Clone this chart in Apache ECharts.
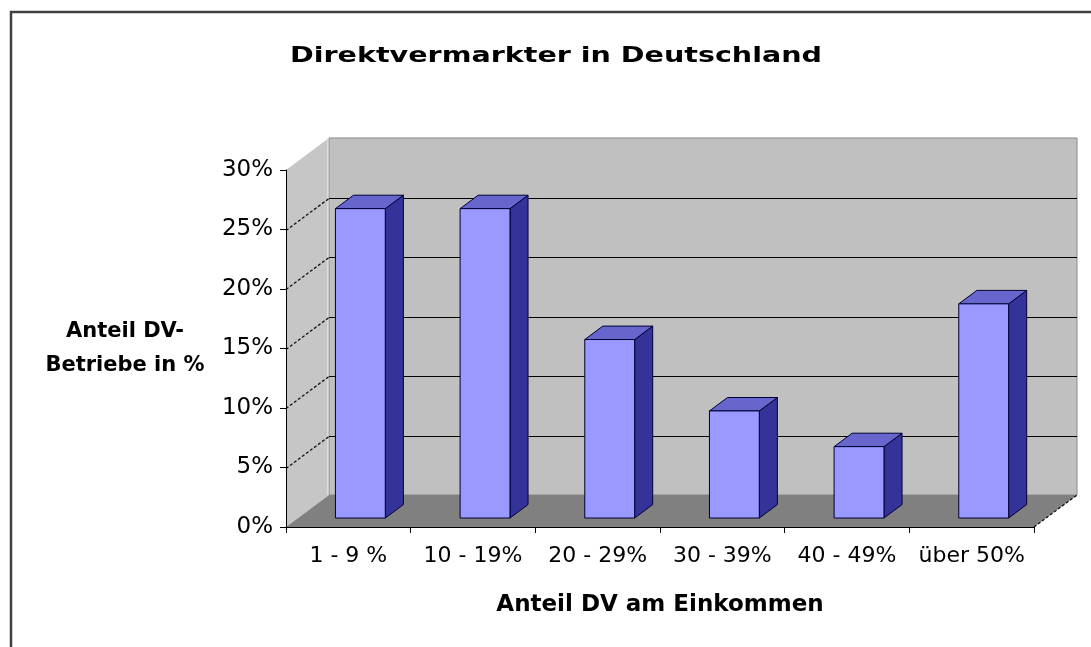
<!DOCTYPE html>
<html>
<head>
<meta charset="utf-8">
<script src="https://cdn.jsdelivr.net/npm/echarts@6/dist/echarts.min.js"></script>
<style>
html,body{margin:0;padding:0;background:#fff;}
#chart{width:1091px;height:647px;}
</style>
</head>
<body>
<div id="chart"></div>
<script>
// ---- data ----
var titleText = 'Direktvermarkter in Deutschland';
var categories = ['1 - 9 %', '10 - 19%', '20 - 29%', '30 - 39%', '40 - 49%', 'über 50%'];
var values = [26, 26, 15, 9, 6, 18];
var yTickValues = [0, 5, 10, 15, 20, 25, 30];
var xAxisName = 'Anteil DV am Einkommen';
var yAxisName = 'Anteil DV-\nBetriebe in %';

// ---- style constants (3D look) ----
var DX = 43, DY = -32;          // depth of the floor / walls
var BAR_POS = 0.28;              // bar front face depth fraction
var BAR_DEPTH = 0.42;            // bar depth fraction
var BAR_WIDTH = 0.4;             // fraction of category width

var chart = echarts.init(document.getElementById('chart'));

function backgroundItem(params, api) {
  var cs = params.coordSys;
  var L = cs.x, R = cs.x + cs.width;
  var yTop = api.coord([0, yTickValues[yTickValues.length - 1]])[1];
  var yBot = api.coord([0, yTickValues[0]])[1];
  var children = [];
  // back wall
  children.push({type: 'polygon', shape: {points: [[L + DX, yTop + DY], [R + DX, yTop + DY], [R + DX, yBot + DY], [L + DX, yBot + DY]]},
    style: {fill: '#c0c0c0', stroke: '#8a8a8a', lineWidth: 1}});
  // left wall
  children.push({type: 'polygon', shape: {points: [[L, yTop], [L + DX, yTop + DY], [L + DX, yBot + DY], [L, yBot]]},
    style: {fill: '#c6c6c6', stroke: null}});
  // floor
  children.push({type: 'polygon', shape: {points: [[L, yBot], [R, yBot], [R + DX, yBot + DY], [L + DX, yBot + DY]]},
    style: {fill: '#808080', stroke: null}});
  // light edge between left wall and back wall
  children.push({type: 'line', shape: {x1: L + DX - 1.5, y1: yTop + DY, x2: L + DX - 1.5, y2: yBot + DY},
    style: {stroke: '#dedede', lineWidth: 1}});
  // grid lines
  for (var i = 1; i < yTickValues.length - 1; i++) {
    var y = Math.round(api.coord([0, yTickValues[i]])[1]) + 0.5;
    children.push({type: 'line', shape: {x1: L + DX, y1: y + DY, x2: R + DX, y2: y + DY},
      style: {stroke: '#000', lineWidth: 1}});
    children.push({type: 'line', shape: {x1: L, y1: y, x2: L + DX, y2: y + DY},
      style: {stroke: '#111', lineWidth: 1.3, lineDash: [3, 2]}});
  }
  // right floor edge
  children.push({type: 'line', shape: {x1: R, y1: yBot, x2: R + DX, y2: yBot + DY},
    style: {stroke: '#111', lineWidth: 1.3, lineDash: [3, 2]}});
  return {type: 'group', children: children};
}

function barItem(params, api) {
  var idx = api.value(0), v = api.value(1);
  var base = api.coord([idx, 0]);
  var top = api.coord([idx, v]);
  var cw = api.size([1, 0])[0];
  var w = cw * BAR_WIDTH;
  var ox = DX * BAR_POS, oy = DY * BAR_POS;
  var sx = DX * BAR_DEPTH, sy = DY * BAR_DEPTH;
  var x0 = base[0] + ox - w / 2, x1 = x0 + w;
  var y0 = top[1] + oy, y1 = base[1] + oy;
  var stroke = '#000033';
  return {type: 'group', children: [
    {type: 'polygon', shape: {points: [[x1, y1], [x1, y0], [x1 + sx, y0 + sy], [x1 + sx, y1 + sy]]},
      style: {fill: '#333399', stroke: stroke, lineWidth: 1}},
    {type: 'polygon', shape: {points: [[x0, y0], [x1, y0], [x1 + sx, y0 + sy], [x0 + sx, y0 + sy]]},
      style: {fill: '#6666cc', stroke: stroke, lineWidth: 1}},
    {type: 'rect', shape: {x: x0, y: y0, width: w, height: y1 - y0},
      style: {fill: '#9999ff', stroke: stroke, lineWidth: 1}}
  ]};
}

var option = {
  backgroundColor: '#ffffff',
  animation: false,
  graphic: [
    {type: 'rect', shape: {x: 11, y: 12, width: 1200, height: 800},
      style: {fill: 'none', stroke: '#404040', lineWidth: 2.5}, z: 100, silent: true},
    {type: 'text', x: 556, y: 57, scaleX: 1.36, z: 100,
      style: {text: titleText, fill: '#000', font: 'bold 21px "DejaVu Sans"', textAlign: 'center', textVerticalAlign: 'middle'}}
  ],
  grid: {left: 286, right: 57, top: 170, bottom: 120, containLabel: false},
  xAxis: {
    type: 'category',
    data: categories,
    z: 10,
    axisLine: {lineStyle: {color: '#000', width: 1}},
    axisTick: {show: true, length: 6, lineStyle: {color: '#000'}},
    axisLabel: {color: '#000', fontFamily: 'DejaVu Sans', fontSize: 22, margin: 18, interval: 0},
    name: xAxisName,
    nameLocation: 'middle',
    nameGap: 67,
    nameTextStyle: {color: '#000', fontFamily: 'DejaVu Sans', fontWeight: 'bold', fontSize: 23}
  },
  yAxis: {
    type: 'value',
    min: yTickValues[0],
    max: yTickValues[yTickValues.length - 1],
    interval: 5,
    z: 10,
    axisLine: {show: true, lineStyle: {color: '#000', width: 1}},
    axisTick: {show: true, length: 6, lineStyle: {color: '#000'}},
    splitLine: {show: false},
    axisLabel: {color: '#000', fontFamily: 'DejaVu Sans', fontSize: 23, margin: 13, formatter: '{value}%'},
    name: yAxisName,
    nameLocation: 'middle',
    nameRotate: 0,
    nameGap: 161,
    nameTextStyle: {color: '#000', fontFamily: 'DejaVu Sans', fontWeight: 'bold', fontSize: 21, align: 'center', lineHeight: 34}
  },
  series: [
    {type: 'custom', z: 1, renderItem: backgroundItem, data: [[0, 0]], silent: true},
    {type: 'custom', z: 3, renderItem: barItem,
      data: values.map(function (v, i) { return [i, v]; })}
  ]
};
chart.setOption(option);
</script>
</body>
</html>
